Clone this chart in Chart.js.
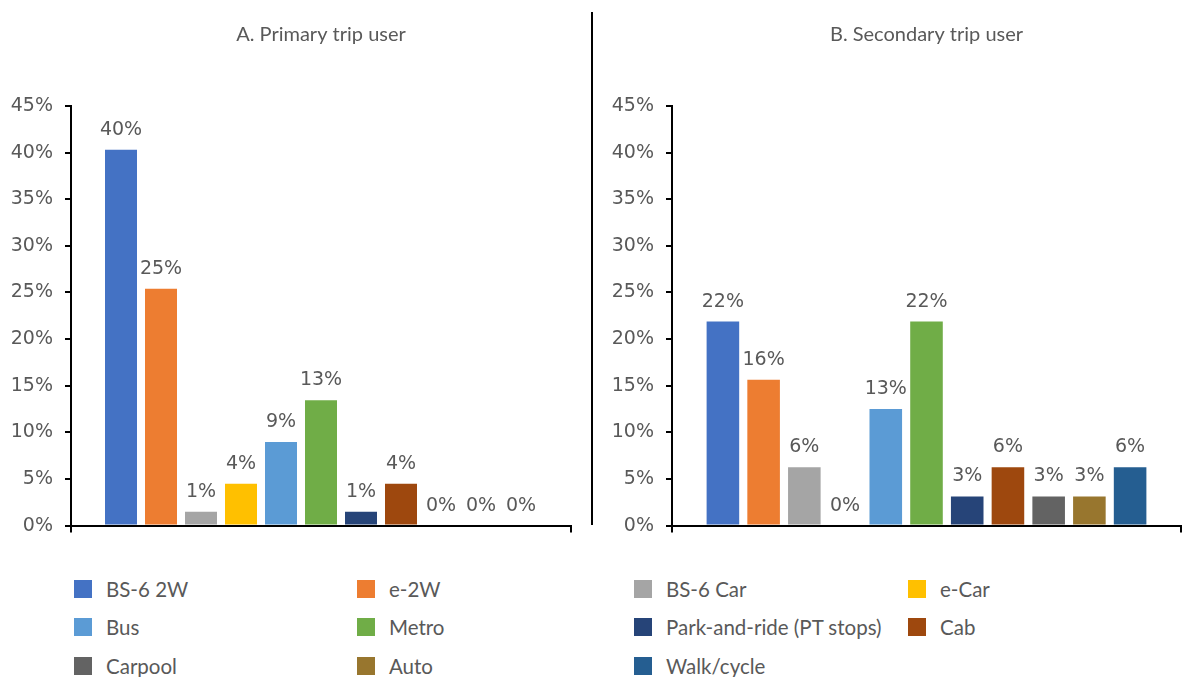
<!DOCTYPE html>
<html>
<head>
<meta charset="utf-8">
<title>Mode share by trip user</title>
<script src="https://cdn.jsdelivr.net/npm/chart.js@4.4.1/dist/chart.umd.min.js"></script>
<style>
  html, body { margin: 0; padding: 0; background: #fff; }
  body { width: 1183px; height: 677px; position: relative; overflow: hidden; }
  .panel { position: absolute; top: 0; height: 549px; }
  #panelA { left: 0; width: 593px; }
  #panelB { left: 593px; width: 590px; }
  .divider { position: absolute; left: 591px; top: 12px; width: 2px; height: 513px; background: #000; }
  .legend-item { position: absolute; display: flex; align-items: center; height: 20px;
                 font: 20.5px "Lato", sans-serif; color: #595959; white-space: nowrap; }
  .legend-item .sw { width: 18px; height: 18px; margin-right: 14px; }
</style>
</head>
<body>
<div class="panel" id="panelA"><canvas id="primaryChart"></canvas></div>
<div class="divider"></div>
<div class="panel" id="panelB"><canvas id="secondaryChart"></canvas></div>
<div id="legend"></div>

<script>
// ── data ──
const modes = ['BS-6 2W', 'e-2W', 'BS-6 Car', 'e-Car', 'Bus', 'Metro',
               'Park-and-ride (PT stops)', 'Cab', 'Carpool', 'Auto', 'Walk/cycle'];
const modeColors = ['#4472C4', '#ED7D31', '#A5A5A5', '#FFC000', '#5B9BD5', '#70AD47',
                    '#264478', '#9E480E', '#636363', '#98762E', '#255E91'];
// share of respondents, %
const primaryShare   = [40.3, 25.4, 1.49, 4.48, 8.96, 13.43, 1.49, 4.48, 0, 0, 0];
const secondaryShare = [21.88, 15.63, 6.25, 0, 12.5, 21.88, 3.13, 6.25, 3.13, 3.13, 6.25];
const yMax = 45;
const yStep = 5;

const TEXT = '#595959';
const NUM_FONT = { family: '"DejaVu Sans", sans-serif', size: 19 };

// ── value labels above each bar ──
const valueLabels = {
  id: 'valueLabels',
  afterDatasetsDraw(chart) {
    const ctx = chart.ctx;
    ctx.save();
    ctx.font = `${NUM_FONT.size}px ${NUM_FONT.family}`;
    ctx.fillStyle = TEXT;
    ctx.textAlign = 'center';
    ctx.textBaseline = 'alphabetic';
    chart.data.datasets.forEach((ds, i) => {
      chart.getDatasetMeta(i).data.forEach((bar, j) => {
        ctx.fillText(ds.data[j].toFixed(0) + '%', bar.x, bar.y - 15);
      });
    });
    ctx.restore();
  }
};

function buildChart(canvasId, title, values, yWidth, padRight) {
  return new Chart(document.getElementById(canvasId), {
    type: 'bar',
    data: {
      labels: [''],
      datasets: modes.map((m, i) => ({
        label: m,
        data: [values[i]],
        backgroundColor: modeColors[i],
        barPercentage: 0.8,
        categoryPercentage: 0.88
      }))
    },
    options: {
      responsive: true,
      maintainAspectRatio: false,
      animation: false,
      layout: { padding: { left: 0, right: padRight, top: 0, bottom: 8 } },
      plugins: {
        legend: { display: false },
        tooltip: { enabled: false },
        title: {
          display: true, text: title, fullSize: false,
          color: TEXT, font: { family: 'Lato', size: 20, weight: 'normal' },
          padding: { top: 23, bottom: 59 }
        }
      },
      scales: {
        x: {
          grid: { display: true, drawOnChartArea: false, drawTicks: true, tickLength: 7, color: '#000', lineWidth: 2 },
          border: { display: true, color: '#000', width: 2 },
          ticks: { display: false },
          afterFit: s => { s.height = 7; }
        },
        y: {
          min: 0, max: yMax,
          grid: { drawOnChartArea: false, drawTicks: true, tickLength: 6, color: '#000', lineWidth: 2 },
          border: { display: true, color: '#000', width: 2 },
          ticks: { stepSize: yStep, padding: 12, color: TEXT, font: NUM_FONT, callback: v => v + '%' },
          afterFit: s => { s.width = yWidth; }
        }
      }
    },
    plugins: [valueLabels]
  });
}

buildChart('primaryChart', 'A. Primary trip user', primaryShare, 71, 22);
buildChart('secondaryChart', 'B. Secondary trip user', secondaryShare, 79, 2);

// ── shared legend, 4 columns ──
(function buildLegend() {
  const box = document.getElementById('legend');
  const colX = [74, 357, 634, 908];
  const rowY = [579, 617, 656];
  modes.forEach((m, i) => {
    const item = document.createElement('div');
    item.className = 'legend-item';
    item.style.left = colX[i % 4] + 'px';
    item.style.top = rowY[Math.floor(i / 4)] + 'px';
    const sw = document.createElement('span');
    sw.className = 'sw';
    sw.style.background = modeColors[i];
    item.appendChild(sw);
    item.appendChild(document.createTextNode(m));
    box.appendChild(item);
  });
})();
</script>
</body>
</html>
